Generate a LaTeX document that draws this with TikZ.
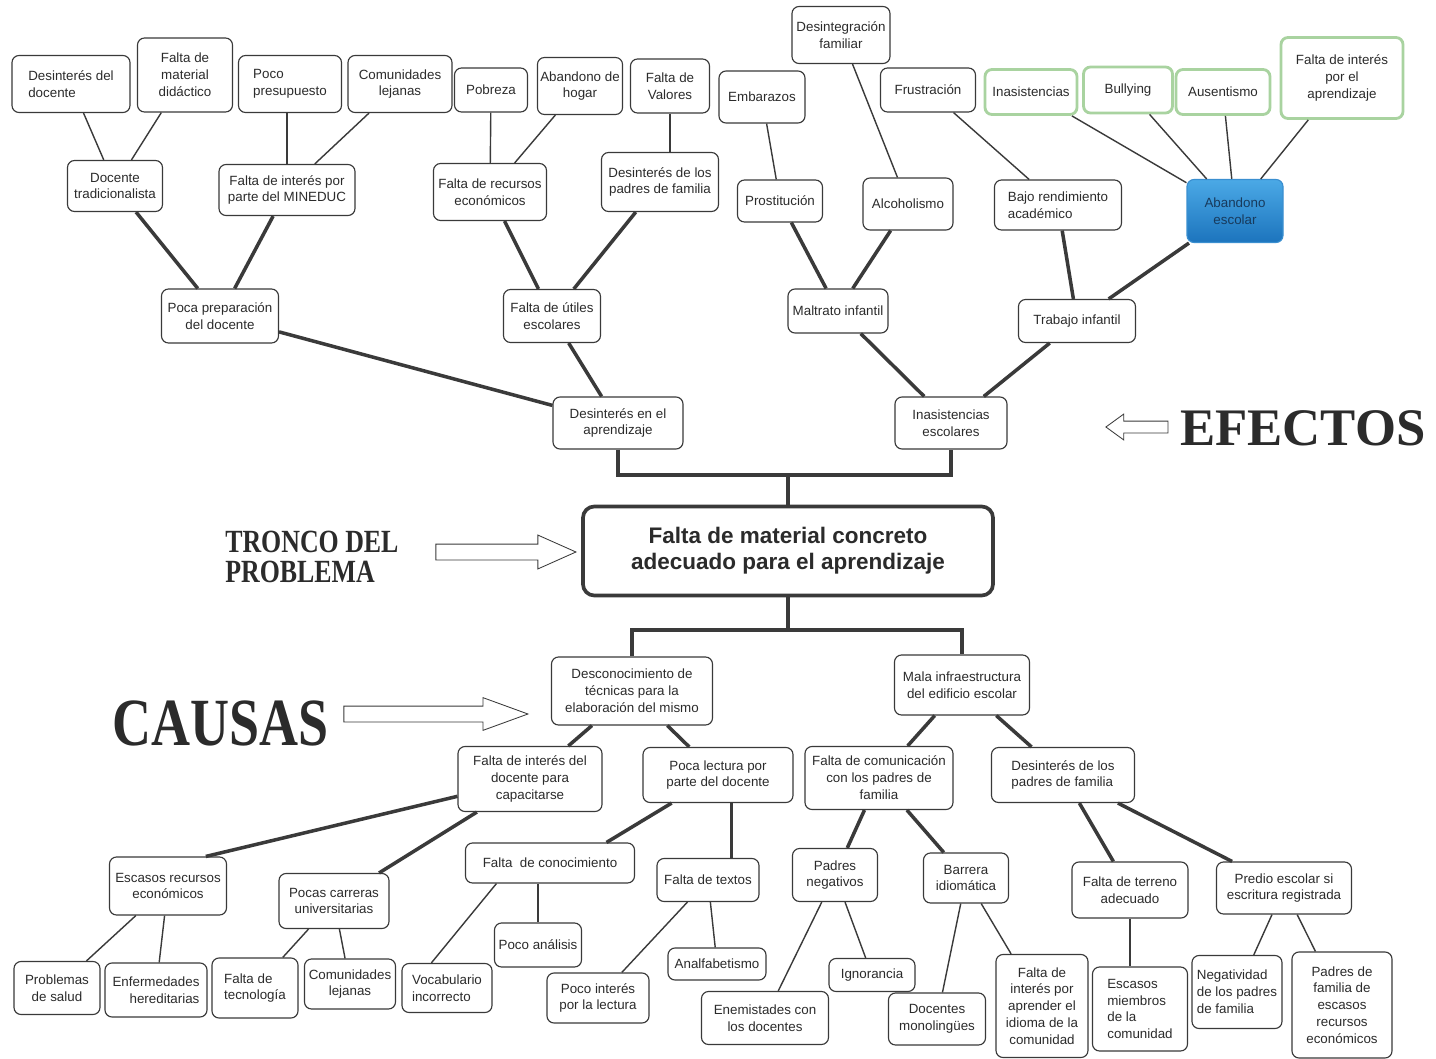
\documentclass[tikz,border=0pt]{standalone}
\usepackage{fontspec}
\setmainfont{Liberation Sans}
\newfontfamily\serifnarrow{Liberation Serif}[FakeStretch=0.8]
\newfontfamily\serifplain{Liberation Serif}
\usepackage{tikz}
\usetikzlibrary{shapes.arrows}
\definecolor{ink}{HTML}{2B2B2B}
\definecolor{edgegray}{HTML}{3A3A3A}
\definecolor{softgreen}{HTML}{A9D3A0}
\definecolor{bluetop}{HTML}{4BA9E6}
\definecolor{bluebottom}{HTML}{1C74BD}
\definecolor{blueline}{HTML}{3A8FD0}
\definecolor{navy}{HTML}{183A5C}
\tikzset{
    boxnode/.style={draw=edgegray, line width=0.8pt, rounded corners=5pt, align=center, inner sep=2pt, text=ink, font=\fontsize{9.5}{12}\selectfont}, % every small box of the tree
    boxsize/.style 2 args={minimum width=#1*0.025cm, minimum height=#2*0.025cm}, % width and height in pixels of the scan
    thinline/.style={draw=edgegray, line width=1pt}, % outer twigs
    thickline/.style={draw=edgegray, line width=2.5pt}, % inner branches
    busline/.style={draw=edgegray, line width=3.5pt}, % trunk of the tree
    }

\begin{document}
\begin{tikzpicture}[x=0.025cm, y=-0.025cm,
    greennode/.style={boxnode, draw=softgreen, line width=2pt},
    bluenode/.style={boxnode, draw=blueline, top color=bluetop, bottom color=bluebottom, text=navy},
    corenode/.style={boxnode, line width=2.6pt, rounded corners=8pt, font=\bfseries\fontsize{16}{18.4}\selectfont},
    titlenode/.style={inner sep=0pt, text=ink, align=left},
    hollowarrow/.style={single arrow, draw=edgegray, line width=0.6pt, fill=white, inner xsep=0pt}]
\fill[white] (0,0) rectangle (1436,1059);
\useasboundingbox (0,0) rectangle (1436,1059);

\node[boxnode, boxsize={118}{57}, align=left] (1) at (71,84) {Desinterés del\\docente};
\node[boxnode, boxsize={95}{74}] (2) at (185,75) {Falta de\\material\\didáctico};
\node[boxnode, boxsize={103}{57}, align=left] (3) at (290,84) {Poco\\presupuesto};
\node[boxnode, boxsize={104}{57}] (4) at (400,84) {Comunidades\\lejanas};
\node[boxnode, boxsize={73}{44}] (5) at (491,90) {Pobreza};
\node[boxnode, boxsize={85}{57}] (6) at (580,86) {Abandono de\\hogar};
\node[boxnode, boxsize={79}{54}] (7) at (670,86) {Falta de\\Valores};
\node[boxnode, boxsize={86}{52}] (8) at (762,97) {Embarazos};
\node[boxnode, boxsize={98}{57}] (9) at (841,35) {Desintegración\\familiar};
\node[boxnode, boxsize={95}{44}] (10) at (928,90) {Frustración};
\node[greennode, boxsize={92}{45}] (11) at (1031,92) {Inasistencias};
\node[greennode, boxsize={89}{46}] (12) at (1128,90) {Bullying};
\node[greennode, boxsize={94}{45}] (13) at (1223,92) {Ausentismo};
\node[greennode, boxsize={122}{81}] (14) at (1342,78) {Falta de interés\\por el\\aprendizaje};

\node[boxnode, boxsize={95}{51}] (15) at (115,186) {Docente\\tradicionalista};
\node[boxnode, boxsize={136}{51}] (16) at (287,190) {Falta de interés por\\parte del MINEDUC};
\node[boxnode, boxsize={113}{57}] (17) at (490,192) {Falta de recursos\\económicos};
\node[boxnode, boxsize={117}{59}] (18) at (660,182) {Desinterés de los\\padres de familia};
\node[boxnode, boxsize={85}{42}] (19) at (780,201) {Prostitución};
\node[boxnode, boxsize={90}{52}] (20) at (908,204) {Alcoholismo};
\node[boxnode, boxsize={127}{50}, align=left] (21) at (1058,205) {Bajo rendimiento\\académico};
\node[bluenode, boxsize={96}{63}] (22) at (1235,211) {Abandono\\escolar};

\node[boxnode, boxsize={117}{54}] (23) at (220,316) {Poca preparación\\del docente};
\node[boxnode, boxsize={97}{53}] (24) at (552,316) {Falta de útiles\\escolares};
\node[boxnode, boxsize={100}{44}] (25) at (838,311) {Maltrato infantil};
\node[boxnode, boxsize={117}{43}] (26) at (1077,321) {Trabajo infantil};

\node[boxnode, boxsize={130}{52}] (27) at (618,423) {Desinterés en el\\aprendizaje};
\node[boxnode, boxsize={112}{52}] (28) at (951,423) {Inasistencias\\escolares};
\node[corenode, boxsize={410}{89}] (29) at (788,551) {Falta de material concreto\\adecuado para el aprendizaje};

\node[boxnode, boxsize={161}{68}] (30) at (632,691) {Desconocimiento de\\técnicas para la\\elaboración del mismo};
\node[boxnode, boxsize={135}{60}] (31) at (962,685) {Mala infraestructura\\del edificio escolar};
\node[boxnode, boxsize={144}{65}] (32) at (530,779) {Falta de interés del\\docente para\\capacitarse};
\node[boxnode, boxsize={150}{55}] (33) at (718,775) {Poca lectura por\\parte del docente};
\node[boxnode, boxsize={148}{63}] (34) at (879,778) {Falta de comunicación\\con los padres de\\familia};
\node[boxnode, boxsize={143}{55}, align=left] (35) at (1063,775) {Desinterés de los\\padres de familia};

\node[boxnode, boxsize={117}{58}] (36) at (168,886) {Escasos recursos\\económicos};
\node[boxnode, boxsize={110}{55}] (37) at (334,901) {Pocas carreras\\universitarias};
\node[boxnode, boxsize={169}{40}] (38) at (550,863) {Falta\ \ de conocimiento};
\node[boxnode, boxsize={102}{43}] (39) at (708,880) {Falta de textos};
\node[boxnode, boxsize={85}{53}] (40) at (835,875) {Padres\\negativos};
\node[boxnode, boxsize={85}{50}] (41) at (966,878) {Barrera\\idiomática};
\node[boxnode, boxsize={116}{56}] (42) at (1130,890) {Falta de terreno\\adecuado};
\node[boxnode, boxsize={135}{52}] (43) at (1284,888) {Predio escolar si\\escritura registrada};

\node[boxnode, boxsize={86}{53}] (44) at (57,988) {Problemas\\de salud};
\node[boxnode, boxsize={102}{54}, align=right] (45) at (156,990) {Enfermedades\\hereditarias};
\node[boxnode, boxsize={86}{60}, align=left] (46) at (255,988) {Falta de\\tecnología};
\node[boxnode, boxsize={91}{50}] (47) at (350,984) {Comunidades\\lejanas};
\node[boxnode, boxsize={90}{49}, align=left] (48) at (447,988) {Vocabulario\\incorrecto};
\node[boxnode, boxsize={87}{44}] (49) at (538,945) {Poco análisis};
\node[boxnode, boxsize={102}{50}] (50) at (598,998) {Poco interés\\por la lectura};
\node[boxnode, boxsize={98}{32}] (51) at (717,964) {Analfabetismo};
\node[boxnode, boxsize={127}{53}] (52) at (765,1018) {Enemistades con\\los docentes};
\node[boxnode, boxsize={86}{33}] (53) at (872,975) {Ignorancia};
\node[boxnode, boxsize={97}{52}] (54) at (937,1019) {Docentes\\monolingües};
\node[boxnode, boxsize={92}{103}] (55) at (1042,1006) {Falta de\\interés por\\aprender el\\idioma de la\\comunidad};
\node[boxnode, boxsize={95}{84}, align=left] (56) at (1140,1009) {Escasos\\miembros\\de la\\comunidad};
\node[boxnode, boxsize={90}{73}, align=left] (57) at (1237,992) {Negatividad\\de los padres\\de familia};
\node[boxnode, boxsize={100}{106}] (58) at (1342,1005) {Padres de\\familia de\\escasos\\recursos\\económicos};

\node[titlenode, anchor=west, font=\serifnarrow\bfseries\fontsize{23}{21.5}\selectfont] (59) at (225,557) {TRONCO DEL\\PROBLEMA};
\node[titlenode, anchor=base west, font=\serifnarrow\bfseries\fontsize{48}{50}\selectfont] (60) at (112,745) {CAUSAS};
\node[titlenode, anchor=base west, font=\serifplain\bfseries\fontsize{37.5}{40}\selectfont] (61) at (1180,445) {EFECTOS};
\node[hollowarrow, inner ysep=0.1875cm, single arrow head extend=0.225cm, single arrow tip angle=48, minimum height=3.5cm] (62) at (497,552) {};
\node[hollowarrow, inner ysep=0.1875cm, single arrow head extend=0.21cm, single arrow tip angle=40, minimum height=4.6cm] (63) at (425,714) {};
\node[hollowarrow, inner ysep=0.1375cm, single arrow head extend=0.175cm, single arrow tip angle=72, minimum height=1.55cm, shape border rotate=180] (64) at (1141,427) {};

\coordinate (b1) at (788,475);
\coordinate (b2) at (788,630);

\draw[thinline] (1) edge (15) (2) edge (15) (16.north) edge (16.north |- 3.south) (4) edge (16)
    (5) edge (17) (6) edge (17) (7.south) edge (7.south |- 18.north)
    (8) edge (19) (9) edge (20) (10) edge (21)
    (11) edge (22) (12) edge (22) (13) edge (22) (14) edge (22);
\draw[thickline] (15) edge (23) (16) edge (23) (17) edge (24) (18) edge (24)
    (19) edge (25) (20) edge (25) (21) edge (26) (22) edge (26)
    (23) edge (27) (24) edge (27) (25) edge (28) (26) edge (28);
\draw[busline] (27.south) |- (b1) -| (28.south);
\draw[busline] (b1) -- (29.north);
\draw[busline] (29.south) -- (b2);
\draw[busline] (30.north) |- (b2) -| (31.north);
\draw[thickline] (30) edge (32) (30) edge (33) (31) edge (34) (31) edge (35)
    (32) edge (36.38) (32) edge (37) (33) edge (38.20) (39.43) edge (39.43 |- 33.south)
    (34) edge (40) (34) edge (41) (35) edge (42) (35) edge (43);
\draw[thinline] (36) edge (44) (36) edge (45) (37) edge (46) (37) edge (47)
    (38.-159) edge (48.122) (49.north) edge (49.north |- 38.south) (39) edge (50) (39) edge (51)
    (40) edge (52) (40) edge (53) (41) edge (54) (41) edge (55)
    (42.south) edge (42.south |- 56.north) (43) edge (57) (43) edge (58);
\end{tikzpicture}
\end{document}
